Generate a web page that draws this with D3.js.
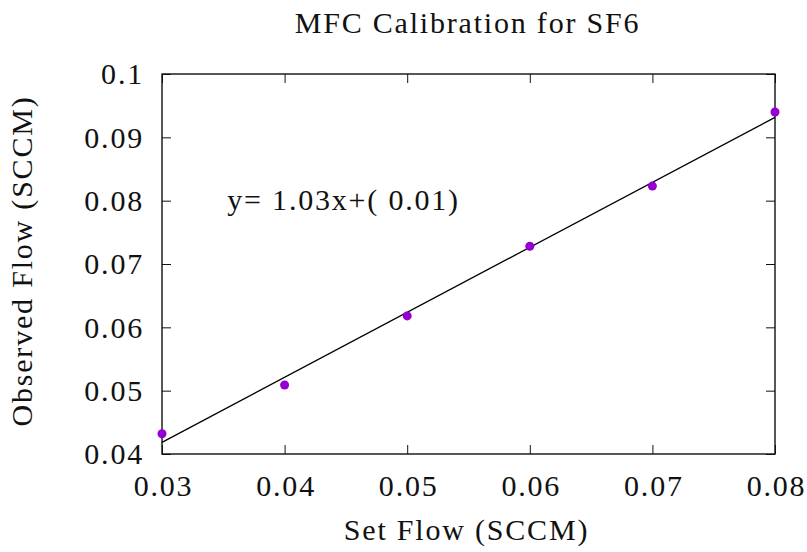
<!DOCTYPE html>
<html>
<head>
<meta charset="utf-8">
<script src="https://cdn.jsdelivr.net/npm/d3@7"></script>
<style>
  html, body { margin: 0; padding: 0; background: #fff; }
  svg text { font-family: "Liberation Serif", "Times New Roman", serif; fill: #111; letter-spacing: 1.8px; }
</style>
</head>
<body>
<svg id="chart" width="807" height="552"></svg>
<script>
// Set flow vs observed flow, SF6 mass flow controller
const setFlow = [0.03, 0.04, 0.05, 0.06, 0.07, 0.08];
const observedFlow = [0.0432, 0.0509, 0.0618, 0.0728, 0.0823, 0.0940];
const xTicks = [0.03, 0.04, 0.05, 0.06, 0.07, 0.08];
const yTicks = [0.04, 0.05, 0.06, 0.07, 0.08, 0.09, 0.1];
const xDomain = [0.03, 0.08];
const yDomain = [0.04, 0.1];
const labelPos = [0.035, 0.08];

const svg = d3.select("#chart");
const margin = { left: 162, right: 32, top: 74, bottom: 98 };
const W = 807, H = 552;
const FS = 30;

const x = d3.scaleLinear().domain(xDomain).range([margin.left, W - margin.right]);
const y = d3.scaleLinear().domain(yDomain).range([H - margin.bottom, margin.top]);

// least-squares fit of the calibration points
const mx = d3.mean(setFlow), my = d3.mean(observedFlow);
const sxy = d3.sum(setFlow, (v, i) => (v - mx) * (observedFlow[i] - my));
const sxx = d3.sum(setFlow, v => (v - mx) * (v - mx));
const slope = sxy / sxx;
const intercept = my - slope * mx;

const fmt = v => String(+v.toFixed(2));
const tickLen = 9;

// axes (ticks drawn inward, mirrored on top/right)
const gB = svg.append("g").attr("transform", `translate(0,${y.range()[0]})`)
  .call(d3.axisBottom(x).tickValues(xTicks).tickFormat(fmt).tickSizeInner(-tickLen).tickSizeOuter(0).tickPadding(21));
const gT = svg.append("g").attr("transform", `translate(0,${y.range()[1]})`)
  .call(d3.axisTop(x).tickValues(xTicks).tickFormat("").tickSizeInner(-tickLen).tickSizeOuter(0));
const gL = svg.append("g").attr("transform", `translate(${x.range()[0]},0)`)
  .call(d3.axisLeft(y).tickValues(yTicks).tickFormat(fmt).tickSizeInner(-tickLen).tickSizeOuter(0).tickPadding(18));
const gR = svg.append("g").attr("transform", `translate(${x.range()[1]},0)`)
  .call(d3.axisRight(y).tickValues(yTicks).tickFormat("").tickSizeInner(-tickLen).tickSizeOuter(0));

[gB, gT, gL, gR].forEach(g => {
  g.select(".domain").remove();
  g.selectAll(".tick line").attr("stroke", "#111").attr("stroke-width", 1);
  g.selectAll(".tick text").attr("font-size", FS).attr("font-family", "Liberation Serif").attr("fill", "#111");
});
gB.selectAll(".tick text").attr("dy", "0.71em").attr("dx", 1);
gL.selectAll(".tick text").attr("dy", "0.33em");

// frame
svg.append("rect")
  .attr("x", x.range()[0]).attr("y", y.range()[1])
  .attr("width", x.range()[1] - x.range()[0])
  .attr("height", y.range()[0] - y.range()[1])
  .attr("fill", "none").attr("stroke", "#111").attr("stroke-width", 1.4);

// fitted line
svg.append("line")
  .attr("x1", x(xDomain[0])).attr("y1", y(slope * xDomain[0] + intercept))
  .attr("x2", x(xDomain[1])).attr("y2", y(slope * xDomain[1] + intercept))
  .attr("stroke", "#000").attr("stroke-width", 1.3);

// data points
svg.append("g").selectAll("circle")
  .data(setFlow.map((v, i) => [v, observedFlow[i]]))
  .join("circle")
  .attr("cx", d => x(d[0])).attr("cy", d => y(d[1]))
  .attr("r", 4.5).attr("fill", "#9400d3");

// fit equation label
svg.append("text")
  .attr("x", x(labelPos[0]) + 4).attr("y", y(labelPos[1]))
  .attr("dy", "0.3em")
  .attr("font-size", FS)
  .text(`y= ${slope.toFixed(2)}x+( ${intercept.toFixed(2)})`);

// title and axis titles
const cx = (x.range()[0] + x.range()[1]) / 2;
svg.append("text").attr("x", cx - 1).attr("y", 33)
  .attr("text-anchor", "middle").attr("font-size", FS)
  .text("MFC Calibration for SF6");
svg.append("text").attr("x", cx - 2).attr("y", 540)
  .attr("text-anchor", "middle").attr("font-size", FS)
  .text("Set Flow (SCCM)");
svg.append("text")
  .attr("transform", `translate(32,${(y.range()[0] + y.range()[1]) / 2 - 3}) rotate(-90)`)
  .attr("text-anchor", "middle").attr("font-size", FS)
  .text("Observed Flow (SCCM)");
</script>
</body>
</html>
